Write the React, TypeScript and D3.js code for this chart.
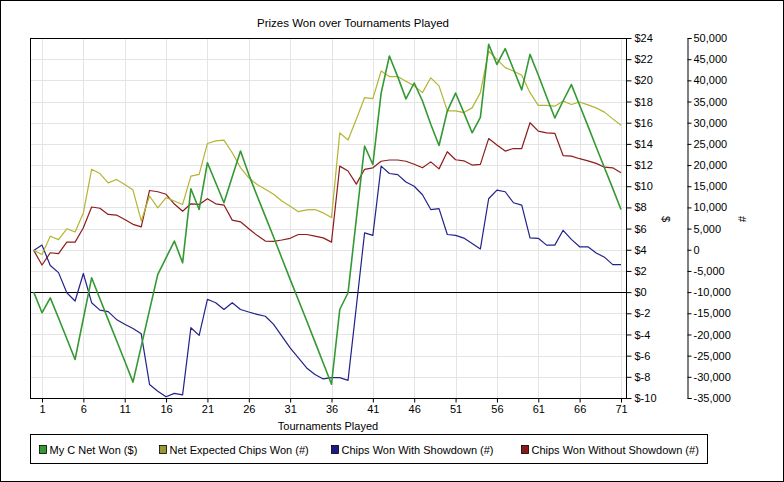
import { useRef, useEffect } from "react";
import * as d3 from "d3";

// values, one per tournament (0..71)
const netWon = [
  0, -1.95, -0.54, -2.45, -4.4, -6.36, -2.49, 1.35, -0.62, -2.6, -4.55, -6.5, -8.5, -5.1, -1.7, 1.67,
  3.24, 4.82, 2.77, 9.76, 7.81, 12.22, 10.33, 8.44, 10.9, 13.32, 11.1, 9.1, 7.15, 5.2, 3.2, 1.2,
  -0.75, -2.7, -4.7, -6.7, -8.7, -1.64, -0.06, 6.9, 13.8, 12.05, 18.8, 22.3, 20.35, 18.25, 19.75, 18.05,
  15.85, 13.85, 17.1, 18.8, 16.95, 15.05, 16.5, 23.4, 21.5, 23.0, 21.05, 19.1, 22.45, 20.5, 18.45, 16.45,
  18.05, 19.6, 17.65, 15.7, 13.7, 11.75, 9.8, 7.8,
];
const netExpected = [
  -150, -1100, 3200, 2400, 4950, 4200, 8700, 19000, 18000, 15800, 16600, 15400, 14100, 6800, 12700, 9900,
  12300, 11500, 10700, 17400, 17800, 25100, 25700, 25900, 22900, 19400, 17000, 15400, 14300, 13100, 11500, 10300,
  9000, 9400, 9500, 8700, 7600, 27600, 25900, 30800, 35900, 35700, 42200, 40900, 40900, 39800, 38700, 37100,
  40600, 38700, 32800, 32800, 32400, 33500, 37100, 46900, 44950, 43000, 42200, 41200, 37100, 34100, 34100, 33900,
  35100, 34300, 34900, 34200, 33500, 32500, 30900, 29400,
];
const withShowdown = [
  -150, 1100, -3700, -5400, -10150, -12100, -5600, -12500, -14250, -14600, -16450, -17600, -18600, -19850, -31800, -33400,
  -34700, -33900, -34250, -18400, -20200, -11700, -12500, -14100, -12500, -14100, -14700, -15250, -15700, -17600, -20400, -23150,
  -25500, -27900, -29450, -30500, -30200, -30200, -30850, -13500, 4000, 3400, 19750, 18000, 17750, 16000, 15000, 13000,
  9500, 9700, 3600, 3400, 2750, 1500, 200, 12050, 14100, 13700, 11100, 10550, 2800, 2700, 1100, 1100,
  4600, 2450, 700, 700, -750, -1750, -3500, -3500,
];
const withoutShowdown = [
  -150, -3600, -700, -900, 1800, 1800, 5200, 10100, 9800, 8350, 8200, 7150, 6000, 5400, 14000, 13700,
  13100, 10800, 9100, 10850, 10700, 12050, 10850, 10550, 7000, 6600, 4950, 3400, 2050, 2000, 2300, 2700,
  3600, 3600, 3200, 2800, 1800, 19750, 18600, 15500, 19000, 19350, 20900, 21200, 21200, 20900, 20200, 19350,
  20750, 19100, 23150, 21250, 21000, 20000, 20150, 26250, 24750, 23300, 23900, 23900, 30000, 28000, 27600, 27500,
  22250, 22100, 21500, 21000, 20400, 19500, 19350, 18200,
];

const xTicks = [1, 6, 11, 16, 21, 26, 31, 36, 41, 46, 51, 56, 61, 66, 71];
const dollarTicks = [-10, -8, -6, -4, -2, 0, 2, 4, 6, 8, 10, 12, 14, 16, 18, 20, 22, 24];
const chipTicks = [
  -35000, -30000, -25000, -20000, -15000, -10000, -5000, 0, 5000, 10000, 15000, 20000, 25000, 30000, 35000, 40000, 45000, 50000,
];

const seriesNames = ["My C Net Won ($)", "Net Expected Chips Won (#)", "Chips Won With Showdown (#)", "Chips Won Without Showdown (#)"];
const seriesColors = ["#339933", "#b4b432", "#22228a", "#8e1c1c"];
const legendColors = ["#339933", "#999933", "#1a1a88", "#881a1a"];

const FONT = "'Liberation Sans', Arial, sans-serif";
const width = 784;
const height = 482;
const plot = { left: 30.5, right: 626.5, top: 38.5, bottom: 398.5 };

const fmtChips = (d: number) => (d < 0 ? "-" : "") + Math.abs(d).toLocaleString("en-US");

const App = () => {
  const xAxisRef = useRef<SVGGElement>(null);
  const dAxisRef = useRef<SVGGElement>(null);
  const cAxisRef = useRef<SVGGElement>(null);

  const x = d3.scaleLinear().domain([1, 71]).range([42, 621]);
  const yDollar = d3.scaleLinear().domain([-10, 24]).range([plot.bottom - 0.5, plot.top - 0.5]);
  const yChips = d3.scaleLinear().domain([-35000, 50000]).range([plot.bottom - 0.5, plot.top - 0.5]);

  const series = [
    { values: netWon, scale: yDollar },
    { values: netExpected, scale: yChips },
    { values: withShowdown, scale: yChips },
    { values: withoutShowdown, scale: yChips },
  ].map((s, i) => ({ ...s, name: seriesNames[i], color: seriesColors[i], legend: legendColors[i] }));

  useEffect(() => {
    const style = (g: any) => {
      g.attr("font-family", FONT).attr("font-size", 11);
      g.selectAll("text").attr("fill", "#000");
      g.selectAll("line, path").attr("stroke", "#000");
    };
    d3.select(xAxisRef.current as SVGGElement)
      .call(d3.axisBottom(x).tickValues(xTicks).tickSize(4).tickSizeOuter(0).tickFormat(d3.format("d")) as any)
      .call(style)
      .call((g: any) => g.select(".domain").remove());
    d3.select(dAxisRef.current as SVGGElement)
      .call(d3.axisRight(yDollar).tickValues(dollarTicks).tickSize(5).tickPadding(3).tickFormat((d: any) => `$${d}`) as any)
      .call(style)
      .call((g: any) => g.select(".domain").remove());
    d3.select(cAxisRef.current as SVGGElement)
      .call(d3.axisRight(yChips).tickValues(chipTicks).tickSize(4).tickPadding(2).tickFormat((d: any) => fmtChips(d)) as any)
      .call(style);
  }, []);

  return (
    <div style={{ position: "absolute", left: 0, top: 0 }}>
      <svg width={width} height={height} style={{ display: "block", background: "#fff" }}>
        <rect x={0.5} y={0.5} width={width - 1} height={height - 1} fill="#fff" stroke="#000" />
        <text x={353} y={27} textAnchor="middle" fontFamily={FONT} fontSize={11.5}>
          Prizes Won over Tournaments Played
        </text>

        {/* grid */}
        <g stroke="#e4e4e4" strokeWidth={1}>
          {xTicks.map((t) => (
            <line key={"gx" + t} x1={Math.round(x(t)) + 0.5} x2={Math.round(x(t)) + 0.5} y1={plot.top} y2={plot.bottom} />
          ))}
          {dollarTicks.map((t) => (
            <line key={"gy" + t} x1={plot.left} x2={plot.right} y1={Math.round(yDollar(t)) + 0.5} y2={Math.round(yDollar(t)) + 0.5} />
          ))}
        </g>
        <line x1={plot.left} x2={plot.right} y1={Math.round(yDollar(0)) + 0.5} y2={Math.round(yDollar(0)) + 0.5} stroke="#000" />

        {/* series, drawn from last legend entry to first */}
        {[...series].reverse().map((s) => (
          <path
            key={s.name}
            d={d3.line<number>().x((_, i) => x(i)).y((v) => s.scale(v))(s.values) ?? ""}
            fill="none"
            stroke={s.color}
            strokeWidth={s.name === seriesNames[0] ? 1.6 : 1.2}
            strokeLinejoin="round"
          />
        ))}

        <rect x={plot.left} y={plot.top} width={plot.right - plot.left} height={plot.bottom - plot.top} fill="none" stroke="#000" />

        <g ref={xAxisRef} transform={`translate(0,${plot.bottom})`} />
        <g ref={dAxisRef} transform={`translate(${plot.right},0)`} />
        <g ref={cAxisRef} transform={`translate(687.5,0)`} />

        <text transform="translate(666,219) rotate(90)" textAnchor="middle" dy="0.35em" fontFamily={FONT} fontSize={11}>$</text>
        <text transform="translate(742,219) rotate(90)" textAnchor="middle" dy="0.35em" fontFamily={FONT} fontSize={11}>#</text>

        <text x={328} y={430} textAnchor="middle" fontFamily={FONT} fontSize={11}>
          Tournaments Played
        </text>

        {/* legend */}
        <rect x={30.5} y={434.5} width={677} height={29} fill="#fff" stroke="#000" />
        {series.map((s, i) => {
          const lx = [39.5, 159.5, 331.5, 521.5][i];
          return (
            <g key={"lg" + s.name}>
              <rect x={lx} y={445.5} width={7} height={8} fill={s.legend} stroke="#000" strokeWidth={0.8} />
              <text x={lx + 10} y={453.5} fontFamily={FONT} fontSize={11}>
                {s.name}
              </text>
            </g>
          );
        })}
      </svg>
    </div>
  );
};

export default App;
